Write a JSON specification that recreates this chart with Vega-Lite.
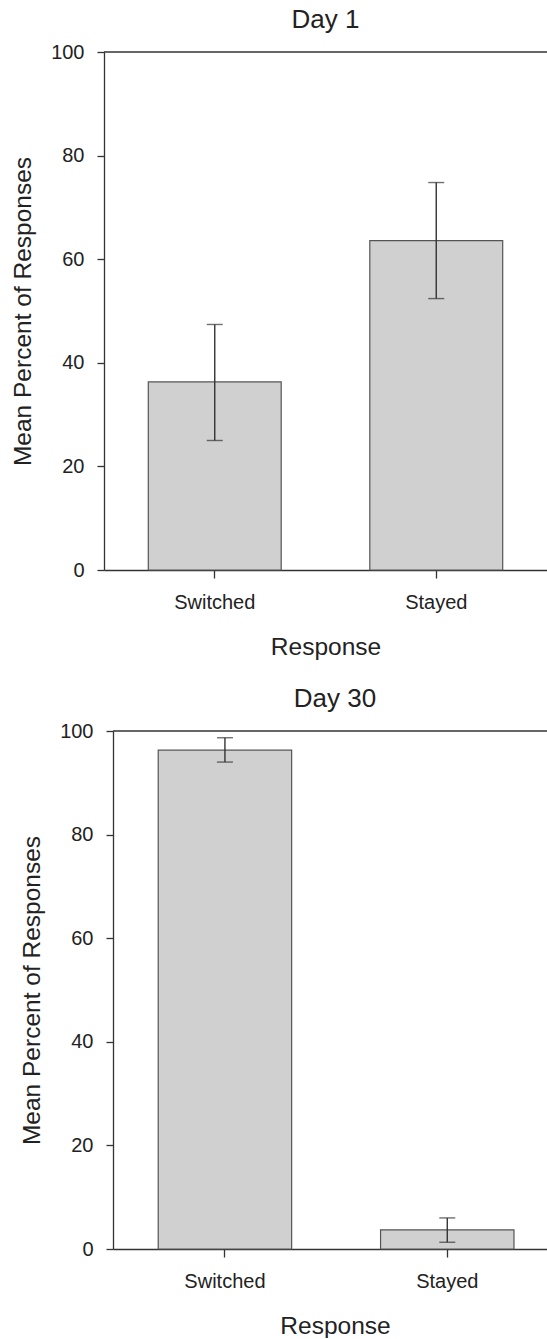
{
  "$schema": "https://vega.github.io/schema/vega-lite/v6.json",
  "background": "white",
  "padding": {"left": 9, "top": 7, "right": 0, "bottom": 0},
  "config": {
    "font": "Liberation Sans",
    "view": {"stroke": null},
    "axis": {
      "domainColor": "#333333", "tickColor": "#333333", "labelColor": "#222222", "titleColor": "#222222",
      "labelFont": "Liberation Sans", "titleFont": "Liberation Sans",
      "labelFontSize": 20, "titleFontSize": 24.5, "titleFontWeight": "normal",
      "grid": false, "domainWidth": 1.3, "tickWidth": 1.3, "tickSize": 7
    },
    "title": {"fontSize": 26, "fontWeight": "normal", "color": "#222222", "font": "Liberation Sans", "frame": "group", "anchor": "middle"}
  },
  "datasets": {
    "d": [
      {"day": "Day 1", "response": "Switched", "mean": 36.3, "lo": 25.0, "hi": 47.4},
      {"day": "Day 1", "response": "Stayed", "mean": 63.6, "lo": 52.4, "hi": 74.8},
      {"day": "Day 30", "response": "Switched", "mean": 96.3, "lo": 94.0, "hi": 98.7},
      {"day": "Day 30", "response": "Stayed", "mean": 3.7, "lo": 1.3, "hi": 6.0}
    ],
    "frame": [{"top": 100}],
    "spacer": [{"a": 0}]
  },
  "spacing": 27,
  "vconcat": [
    {
      "spacing": 0,
      "hconcat": [
        {
          "width": 1, "height": 518,
          "data": {"name": "spacer"},
          "mark": {"type": "point", "opacity": 0, "size": 1},
          "encoding": {}
        },
        {
          "width": 443, "height": 518,
          "title": {"text": "Day 1", "offset": 9},
          "layer": [
            {
              "data": {"name": "d"},
              "transform": [{"filter": "datum.day == 'Day 1'"}],
              "encoding": {
                "x": {"field": "response", "type": "nominal", "sort": ["Switched", "Stayed"], "title": "Response",
                      "scale": {"paddingInner": 0.4, "paddingOuter": 0.2},
                      "axis": {"labelAngle": 0, "labelPadding": 14, "titlePadding": 23, "tickSize": 8}}
              },
              "layer": [
                {"mark": {"type": "bar", "fill": "#d0d0d0", "stroke": "#555555", "strokeWidth": 1.2},
                 "encoding": {"y": {"field": "mean", "type": "quantitative", "title": "Mean Percent of Responses",
                                    "scale": {"domain": [0, 100], "nice": false},
                                    "axis": {"values": [0, 20, 40, 60, 80, 100], "labelPadding": 13, "titlePadding": 15}}}},
                {"mark": {"type": "rule", "color": "#333333", "strokeWidth": 1.4},
                 "encoding": {"y": {"field": "lo", "type": "quantitative", "title": "Mean Percent of Responses"}, "y2": {"field": "hi"}}},
                {"mark": {"type": "tick", "color": "#333333", "thickness": 1.4, "size": 16},
                 "encoding": {"y": {"field": "lo", "type": "quantitative", "title": "Mean Percent of Responses"}}},
                {"mark": {"type": "tick", "color": "#333333", "thickness": 1.4, "size": 16},
                 "encoding": {"y": {"field": "hi", "type": "quantitative", "title": "Mean Percent of Responses"}}}
              ]
            },
            {
              "data": {"name": "frame"},
              "mark": {"type": "rule", "color": "#333333", "strokeWidth": 1.3},
              "encoding": {"y": {"field": "top", "type": "quantitative", "title": "Mean Percent of Responses"}}
            }
          ]
        }
      ]
    },
    {
      "spacing": 0,
      "hconcat": [
        {
          "width": 10, "height": 518,
          "data": {"name": "spacer"},
          "mark": {"type": "point", "opacity": 0, "size": 1},
          "encoding": {}
        },
        {
          "width": 434, "height": 518,
          "title": {"text": "Day 30", "offset": 9, "dx": 5},
          "layer": [
            {
              "data": {"name": "d"},
              "transform": [{"filter": "datum.day == 'Day 30'"}],
              "encoding": {
                "x": {"field": "response", "type": "nominal", "sort": ["Switched", "Stayed"], "title": "Response",
                      "scale": {"paddingInner": 0.4, "paddingOuter": 0.176, "align": 0.578},
                      "axis": {"labelAngle": 0, "labelPadding": 14, "titlePadding": 23, "tickSize": 8, "titleX": 222}}
              },
              "layer": [
                {"mark": {"type": "bar", "fill": "#d0d0d0", "stroke": "#555555", "strokeWidth": 1.2},
                 "encoding": {"y": {"field": "mean", "type": "quantitative", "title": "Mean Percent of Responses",
                                    "scale": {"domain": [0, 100], "nice": false},
                                    "axis": {"values": [0, 20, 40, 60, 80, 100], "labelPadding": 13, "titlePadding": 15}}}},
                {"mark": {"type": "rule", "color": "#333333", "strokeWidth": 1.4},
                 "encoding": {"y": {"field": "lo", "type": "quantitative", "title": "Mean Percent of Responses"}, "y2": {"field": "hi"}}},
                {"mark": {"type": "tick", "color": "#333333", "thickness": 1.4, "size": 16},
                 "encoding": {"y": {"field": "lo", "type": "quantitative", "title": "Mean Percent of Responses"}}},
                {"mark": {"type": "tick", "color": "#333333", "thickness": 1.4, "size": 16},
                 "encoding": {"y": {"field": "hi", "type": "quantitative", "title": "Mean Percent of Responses"}}}
              ]
            },
            {
              "data": {"name": "frame"},
              "mark": {"type": "rule", "color": "#333333", "strokeWidth": 1.3},
              "encoding": {"y": {"field": "top", "type": "quantitative", "title": "Mean Percent of Responses"}}
            }
          ]
        }
      ]
    }
  ]
}
